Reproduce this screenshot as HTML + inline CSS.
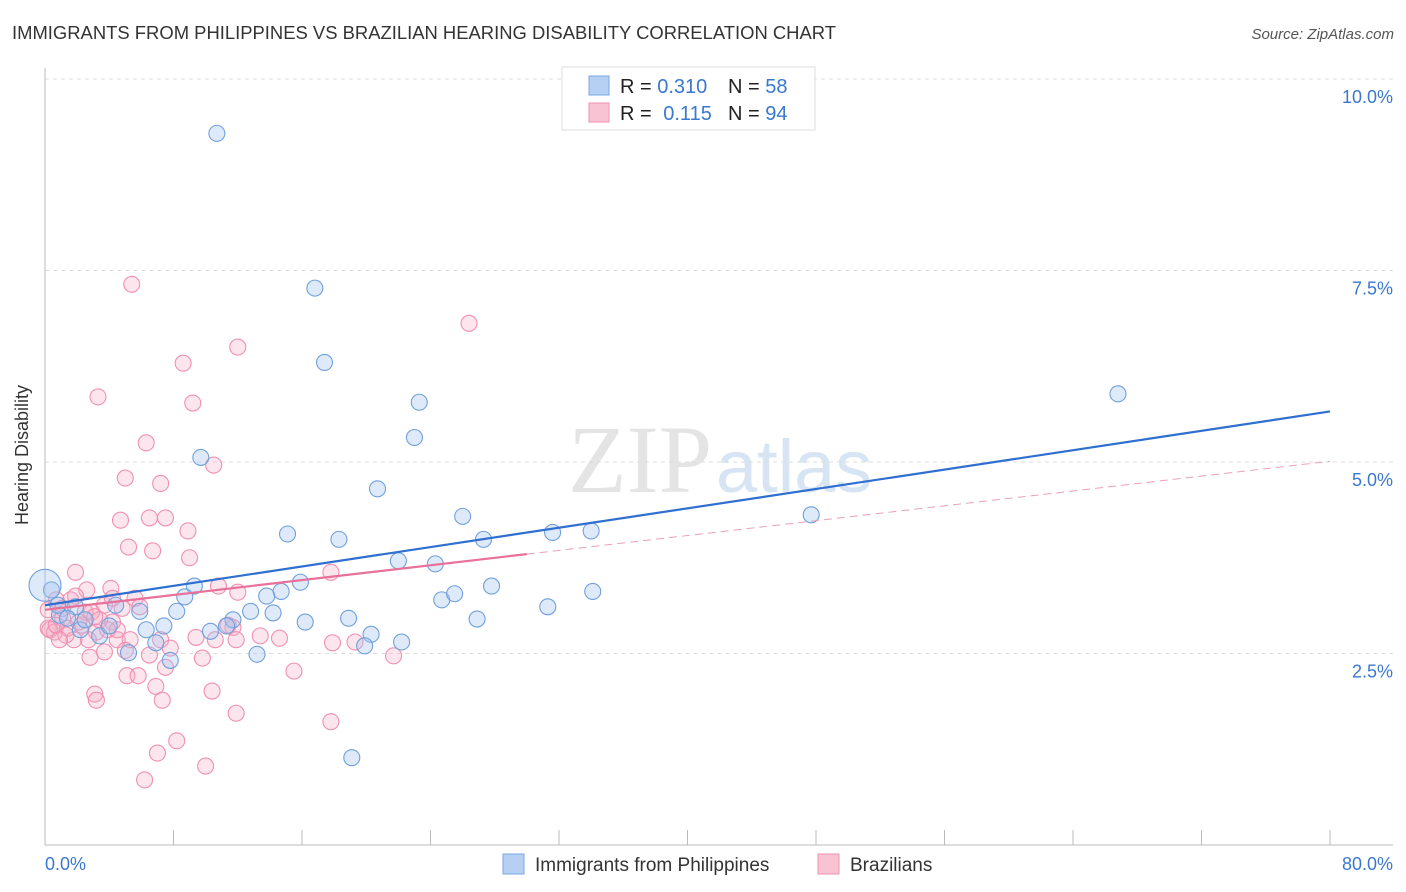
<!DOCTYPE html>
<html><head><meta charset="utf-8"><style>
body{margin:0;background:#fff;font-family:"Liberation Sans",sans-serif;}
svg{display:block}
</style></head><body>
<svg id="chart" width="1406" height="892">
<text x="12" y="39" font-size="18" fill="#333" textLength="824" lengthAdjust="spacingAndGlyphs">IMMIGRANTS FROM PHILIPPINES VS BRAZILIAN HEARING DISABILITY CORRELATION CHART</text>
<text x="1394" y="39" font-size="15" fill="#555" font-style="italic" text-anchor="end">Source: ZipAtlas.com</text>
<text x="712" y="492" font-size="96" fill="#e4e4e4" text-anchor="end" font-family="Liberation Serif">ZIP</text>
<text x="716" y="492" font-size="74" fill="#d6e4f4">atlas</text>
<g id="grid"></g>
<line x1="45" y1="68" x2="45" y2="845" stroke="#bbb"/>
<line x1="45" y1="845" x2="1393" y2="845" stroke="#bbb"/>
<text x="28" y="455" font-size="18" fill="#333" text-anchor="middle" transform="rotate(-90 28 455)">Hearing Disability</text>
<text x="45" y="870" font-size="18" fill="#3a78d0">0.0%</text>
<text x="1393" y="870" font-size="18" fill="#3a78d0" text-anchor="end">80.0%</text>
<g id="pts"></g>
<g id="trend"></g>
<g>
<rect x="562" y="67" width="253" height="63" fill="#fff" stroke="#ddd"/>
<rect x="589" y="76" width="20" height="19" fill="#b6d0f3" stroke="#7aa8e0"/>
<rect x="589" y="103" width="20" height="19" fill="#f8c4d3" stroke="#f090b0"/>
<text x="620" y="93" font-size="20" fill="#222">R = <tspan fill="#3a78d0">0.310</tspan></text>
<text x="728" y="93" font-size="20" fill="#222">N = <tspan fill="#3a78d0">58</tspan></text>
<text x="620" y="120" font-size="20" fill="#222">R = <tspan fill="#3a78d0" dx="6">0.115</tspan></text>
<text x="728" y="120" font-size="20" fill="#222">N = <tspan fill="#3a78d0">94</tspan></text>
</g>
<g>
<rect x="503" y="854" width="21" height="20" fill="#b6d0f3" stroke="#7aa8e0"/>
<text x="535" y="871" font-size="19" fill="#333">Immigrants from Philippines</text>
<rect x="818" y="854" width="21" height="20" fill="#f8c4d3" stroke="#f090b0"/>
<text x="850" y="871" font-size="19" fill="#333">Brazilians</text>
</g>
</svg>
<script>
const yTicks=[2.5,5.0,7.5,10.0];
const xTicks=[0,8,16,24,32,40,48,56,64,72,80];
const blueX=[10.7,16.8,17.4,23.3,23.0,9.7,20.7,66.8,47.7,26.0,15.1,18.3,31.6,34.0,27.3,22.0,24.3,9.3,8.7,14.7,15.9,13.8,27.8,24.7,25.5,34.1,31.3,8.2,5.9,4.4,12.8,14.2,11.7,7.4,10.3,11.3,16.2,18.9,26.9,6.3,20.3,22.2,19.9,6.9,7.8,5.2,13.2,3.4,1.9,0.9,0.8,2.2,19.1,2.5,1.4,4.0,0.4,0];
const blueY=[9.29,7.27,6.30,5.78,5.32,5.06,4.65,5.89,4.31,4.29,4.06,3.99,4.08,4.10,3.99,3.71,3.67,3.38,3.24,3.31,3.43,3.25,3.38,3.20,3.28,3.31,3.11,3.05,3.05,3.13,3.05,3.03,2.94,2.86,2.79,2.86,2.91,2.96,2.95,2.81,2.75,2.65,2.60,2.64,2.41,2.51,2.49,2.73,3.11,3.00,3.13,2.81,1.14,2.94,2.96,2.86,3.33,3.39];
const pinkX=[5.4,26.4,12.0,8.6,3.3,9.2,6.3,10.5,5.0,7.2,4.7,6.5,7.5,5.2,6.7,8.9,9.0,1.9,17.8,10.8,12.0,4.1,2.6,1.9,5.6,0.7,3.7,4.8,2.9,1.1,0.2,0.6,1.4,2.3,3.2,4.2,4.5,5.3,5.0,3.7,2.8,7.2,9.4,11.7,13.4,14.6,17.9,19.3,21.7,10.6,6.5,9.8,15.5,5.1,5.8,7.5,6.9,10.4,3.1,3.2,7.3,11.9,17.8,7.0,8.2,10.0,6.2,11.9,3.4,1.6,1.1,2.7,0.2,0.3,0.7,1.8,2.5,4.2,5.9,4.5,1.3,3.9,0.9,2.1,3.1,7.8,11.4];
const pinkY=[7.32,6.81,6.50,6.29,5.85,5.77,5.25,4.96,4.79,4.72,4.24,4.27,4.27,3.89,3.84,4.10,3.75,3.56,3.56,3.38,3.30,3.35,3.33,3.25,3.22,3.20,3.13,3.09,3.04,2.96,2.83,2.78,2.83,2.87,2.78,2.91,2.68,2.68,2.54,2.52,2.45,2.68,2.71,2.84,2.73,2.70,2.64,2.65,2.47,2.68,2.48,2.44,2.27,2.21,2.21,2.32,2.07,2.01,1.97,1.89,1.89,1.72,1.61,1.20,1.36,1.03,0.85,2.68,2.94,3.20,3.09,2.68,3.07,2.81,2.87,2.68,3.04,3.22,3.11,2.81,2.74,2.81,2.68,2.91,2.98,2.57,2.87];
const blueTrend=[3.13,5.66];
const pinkTrend=[3.07,5.01];
const pinkSolidEnd=30;
const NS='http://www.w3.org/2000/svg';
const X=v=>45+v*(1285/80);
const Y=v=>845-v*76.6;
function mk(tag,attrs,parent){const e=document.createElementNS(NS,tag);for(const k in attrs)e.setAttribute(k,attrs[k]);parent.appendChild(e);return e;}
const grid=document.getElementById('grid');
yTicks.forEach(t=>{
  const l=mk('line',{x1:45,x2:1393,y1:Y(t),y2:Y(t),stroke:'#ddd','stroke-dasharray':'4,4'},grid);
  
  
  const tx=mk('text',{x:1393,y:Y(t)+24,'font-size':18,fill:'#3a78d0','text-anchor':'end'},grid);
  tx.textContent=t.toFixed(1)+'%';
  
  
});
xTicks.forEach(t=>{
  const l=mk('line',{x1:X(t),x2:X(t),y1:830,y2:845,stroke:'#bbb'},grid);
  
  
});
const pts=document.getElementById('pts');
pinkX.forEach((x,i)=>{
  const c=mk('circle',{cx:X(x),cy:Y(pinkY[i]),r:8,fill:'rgba(245,170,195,0.3)',stroke:'#f090b0','stroke-width':1.1},pts);
  
  
});
blueX.forEach((x,i)=>{
  const c=mk('circle',{cx:X(x),cy:Y(blueY[i]),r:(i===blueX.length-1)?16:8,fill:'rgba(160,196,240,0.35)',stroke:'#6fa0dc','stroke-width':1.1},pts);
  
  
});
const tr=document.getElementById('trend');
const lb=mk('line',{x1:X(0),y1:Y(blueTrend[0]),x2:X(80),y2:Y(blueTrend[1]),stroke:'#2f6fd0','stroke-width':2.2},tr);


const pAt=x=>pinkTrend[0]+(pinkTrend[1]-pinkTrend[0])*x/80;
const lp=mk('line',{x1:X(0),y1:Y(pAt(0)),x2:X(pinkSolidEnd),y2:Y(pAt(pinkSolidEnd)),stroke:'#e8709a','stroke-width':2.2},tr);


const ld=mk('line',{x1:X(pinkSolidEnd),y1:Y(pAt(pinkSolidEnd)),x2:X(80),y2:Y(pAt(80)),stroke:'#e8a0b8','stroke-width':1,'stroke-dasharray':'8,5'},tr);


</script>
</body></html>
